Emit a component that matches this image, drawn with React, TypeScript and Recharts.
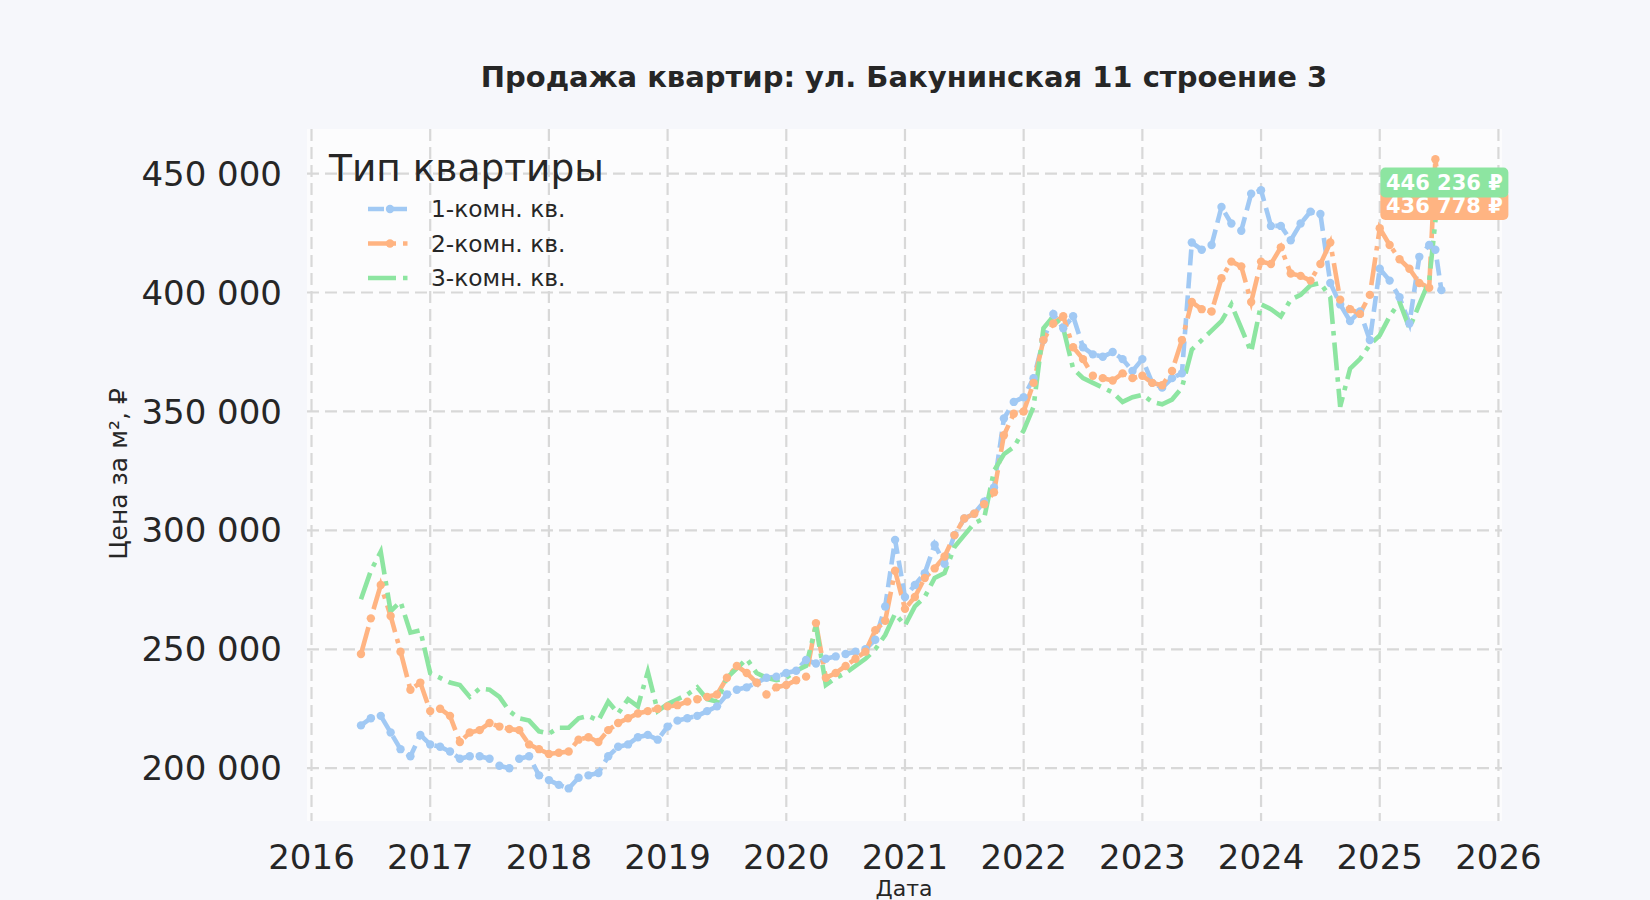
import { LineChart, Line, XAxis, YAxis, CartesianGrid, ReferenceDot, Customized } from 'recharts';

const dates = [
  '2016-06', '2016-07', '2016-08', '2016-09', '2016-10', '2016-11', '2016-12',
  '2017-01', '2017-02', '2017-03', '2017-04', '2017-05', '2017-06', '2017-07', '2017-08', '2017-09', '2017-10', '2017-11', '2017-12',
  '2018-01', '2018-02', '2018-03', '2018-04', '2018-05', '2018-06', '2018-07', '2018-08', '2018-09', '2018-10', '2018-11', '2018-12',
  '2019-01', '2019-02', '2019-03', '2019-04', '2019-05', '2019-06', '2019-07', '2019-08', '2019-09', '2019-10', '2019-11', '2019-12',
  '2020-01', '2020-02', '2020-03', '2020-04', '2020-05', '2020-06', '2020-07', '2020-08', '2020-09', '2020-10', '2020-11', '2020-12',
  '2021-01', '2021-02', '2021-03', '2021-04', '2021-05', '2021-06', '2021-07', '2021-08', '2021-09', '2021-10', '2021-11', '2021-12',
  '2022-01', '2022-02', '2022-03', '2022-04', '2022-05', '2022-06', '2022-07', '2022-08', '2022-09', '2022-10', '2022-11', '2022-12',
  '2023-01', '2023-02', '2023-03', '2023-04', '2023-05', '2023-06', '2023-07', '2023-08', '2023-09', '2023-10', '2023-11', '2023-12',
  '2024-01', '2024-02', '2024-03', '2024-04', '2024-05', '2024-06', '2024-07', '2024-08', '2024-09', '2024-10', '2024-11', '2024-12',
  '2025-01', '2025-02', '2025-03', '2025-04', '2025-05', '2025-06', '2025-06-20', '2025-07-08',
];

// 1-комн. кв.
const oneRoom = [
  218000, 221000, 222000, 215000, 208000, 205000, 214000,
  210000, 209000, 207000, 204000, 205000, 205000, 204000, 201000, 200000, 204000, 205000, 197000,
  195000, 193000, 191500, 196000, 197000, 198000, 205000, 209000, 210000, 213000, 214000, 212000,
  217500, 220000, 221000, 222000, 224000, 226000, 231000, 233000, 234000, 236000, 238000, 238500,
  240000, 241000, 245500, 244000, 246000, 247000, 248000, 249000, 250000, 254000, 268000, 296000,
  272000, 277000, 282000, 294000, 286000, 298000, 305000, 307000, 312000, 318000, 347000, 354000,
  356000, 364000, 380000, 391000, 385000, 390000, 377000, 374000, 373000, 375000, 372000, 367000,
  372000, 362000, 360000, 364000, 366000, 421000, 418000, 420000, 436000, 429000, 426000, 441500,
  443000, 428000, 428000, 422000, 429000, 434000, 433000, 404000, 395000, 388000, 392000, 380000,
  410000, 405000, 398000, 387000, 415000, 420000, 418000, 401000,
];

// 2-комн. кв.
const twoRoom = [
  248000, 263000, 277000, 264000, 249000, 233000, 236000,
  224000, 225000, 222000, 211000, 215000, 216000, 219000, 217500, 216500, 216000, 210000, 208000,
  206000, 206500, 207000, 212000, 213000, 211000, 216000, 219000, 221000, 223000, 224000, 225000,
  226000, 226500, 228000, 229000, 230000, 231000, 238000, 243000, 240000, 236000, 231000, 234000,
  235000, 237000, 238500, 261000, 238000, 240000, 243000, 246000, 249000, 258000, 262000, 283000,
  267000, 272000, 280000, 284000, 289000, 298000, 305000, 307000, 311000, 316000, 340000, 349000,
  350000, 362000, 380000, 387000, 390000, 377000, 372000, 365000, 364000, 363000, 366000, 364000,
  365000, 362000, 361000, 367000, 380000, 396000, 393000, 392000, 406000, 413000, 411000, 396000,
  413000, 412000, 419000, 408000, 407000, 405000, 412000, 421000, 397000, 393000, 391000, 399000,
  427000, 420000, 414000, 410000, 404000, 402000, 456000, 436778,
];

// 3-комн. кв.
const threeRoom = [
  271000, 283000, 291000, 266000, 270000, 257000, 258000,
  240000, 238000, 236000, 235000, 230000, 233500, 233000, 230000, 224000, 221000, 220000, 215500,
  214500, 217000, 217000, 221000, 222000, 220000, 228000, 223000, 229000, 226000, 240500, 224000,
  227000, 229000, 231000, 234000, 229000, 228000, 238000, 242000, 246000, 240000, 238000, 237000,
  238000, 241000, 243000, 260000, 235000, 238000, 240000, 243000, 246000, 250000, 256000, 265000,
  260000, 268000, 272000, 280000, 282000, 293000, 298000, 303000, 305000, 325000, 332000, 335000,
  342000, 352000, 385000, 390000, 385000, 368000, 364000, 362000, 360000, 358000, 354000, 356000,
  357000, 354000, 353000, 355000, 360000, 376000, 380000, 384000, 388000, 395000, 385000, 375000,
  395000, 393000, 390000, 397000, 399000, 403000, 404000, 398000, 352000, 368000, 372000, 378000,
  382000, 390000, 396000, 385000, 395000, 405000, 430000, 446236,
];

const yearTicks = [2016, 2017, 2018, 2019, 2020, 2021, 2022, 2023, 2024, 2025, 2026];
const priceTicks = [200000, 250000, 300000, 350000, 400000, 450000];
const seriesNames = ['1-комн. кв.', '2-комн. кв.', '3-комн. кв.'];

const BLUE = '#a1c9f4';
const ORANGE = '#ffb482';
const GREEN = '#8de5a1';
const TEXT = '#262626';
const FONT = '"DejaVu Sans", Verdana, sans-serif';

const LW = 4.6;
const DOT_R = 4.2;
const DASH = '16 7';
const DASHDOT = '28 7 4.5 7';

// '2020-03' or '2025-06-20' -> decimal year
const toYear = (d: string) => {
  const [y, m, day] = d.split('-').map(Number);
  return y + (m - 1) / 12 + ((day || 1) - 1) / 365;
};

const data = dates.map((d, i) => ({
  t: toYear(d),
  one: oneRoom[i],
  two: twoRoom[i],
  three: threeRoom[i],
}));

const fmt = (v: number) => String(Math.round(v)).replace(/\B(?=(\d{3})+(?!\d))/g, ' ');

const last = data[data.length - 1];

const EndTag = (props: any) => {
  const { cx, cy, fill, text } = props;
  if (cx == null || cy == null) return null;
  const x = cx + 3;
  return (
    <g>
      <rect x={x - 64} y={cy - 15} width={128} height={30} rx={5} fill={fill} />
      <text
        x={x}
        y={cy}
        dy="0.36em"
        textAnchor="middle"
        fill="#fff"
        fontWeight="bold"
        fontSize={21}
        fontFamily={FONT}
      >
        {text}
      </text>
    </g>
  );
};

const legendRows = [
  { name: seriesNames[0], color: BLUE, dash: DASH, dot: true },
  { name: seriesNames[1], color: ORANGE, dash: DASHDOT, dot: true },
  { name: seriesNames[2], color: GREEN, dash: DASHDOT, dot: false },
];

const Decor = () => (
  <g fontFamily={FONT} fill={TEXT}>
    <text x={904} y={87} textAnchor="middle" fontSize={29} fontWeight="bold" fill={TEXT}>
      Продажа квартир: ул. Бакунинская 11 строение 3
    </text>
    <text
      x={118}
      y={474}
      textAnchor="middle"
      dominantBaseline="central"
      fontSize={25}
      fill={TEXT}
      transform="rotate(-90 118 474)"
    >
      Цена за м², ₽
    </text>
    <text x={904} y={896} textAnchor="middle" fontSize={22} fill={TEXT}>
      Дата
    </text>
    <text x={329} y={181} fontSize={37.5} fill={TEXT}>
      Тип квартиры
    </text>
    {legendRows.map((r, i) => {
      const y = 209 + i * 34.5;
      return (
        <g key={r.name}>
          <line x1={368} x2={411} y1={y} y2={y} stroke={r.color} strokeWidth={LW} strokeDasharray={r.dash} />
          {r.dot && <circle cx={390} cy={y} r={DOT_R} fill={r.color} />}
          <text x={431} y={y} dy="0.36em" fontSize={23.3} fill={TEXT}>
            {r.name}
          </text>
        </g>
      );
    })}
  </g>
);

export default function App() {
  return (
    <div
      style={{
        position: 'fixed',
        left: 0,
        top: 0,
        width: 1650,
        height: 900,
        background: '#f6f7fb',
        fontFamily: FONT,
      }}
    >
      <LineChart
        width={1650}
        height={900}
        data={data}
        margin={{ top: 129, right: 148, bottom: 19, left: 147 }}
        style={{ fontFamily: FONT }}
      >
        <CartesianGrid
          syncWithTicks
          fill="#fcfcfd"
          stroke="#d8d8d8"
          strokeWidth={2.2}
          strokeDasharray="12 6"
        />
        <XAxis
          type="number"
          dataKey="t"
          domain={[2015.962, 2026.03]}
          ticks={yearTicks}
          interval={0}
          allowDataOverflow
          axisLine={false}
          tickLine={false}
          tickSize={0}
          tickMargin={24}
          height={60}
          tick={{ fontSize: 34, fill: TEXT }}
        />
        <YAxis
          type="number"
          domain={[177800, 468750]}
          ticks={priceTicks}
          allowDataOverflow
          axisLine={false}
          tickLine={false}
          tickSize={0}
          tickMargin={25}
          width={160}
          tickFormatter={fmt}
          tick={{ fontSize: 34, fill: TEXT }}
        />
        <Line
          dataKey="one"
          name={seriesNames[0]}
          type="linear"
          stroke={BLUE}
          strokeWidth={LW}
          strokeDasharray={DASH}
          dot={{ r: DOT_R, fill: BLUE, stroke: BLUE, strokeWidth: 0 }}
          isAnimationActive={false}
        />
        <Line
          dataKey="two"
          name={seriesNames[1]}
          type="linear"
          stroke={ORANGE}
          strokeWidth={LW}
          strokeDasharray={DASHDOT}
          dot={{ r: DOT_R, fill: ORANGE, stroke: ORANGE, strokeWidth: 0 }}
          isAnimationActive={false}
        />
        <Line
          dataKey="three"
          name={seriesNames[2]}
          type="linear"
          stroke={GREEN}
          strokeWidth={LW}
          strokeDasharray={DASHDOT}
          dot={false}
          isAnimationActive={false}
        />
        <ReferenceDot
          x={last.t}
          y={last.two}
          r={0}
          shape={(p: any) => <EndTag {...p} fill={ORANGE} text={`${fmt(last.two)} ₽`} />}
        />
        <ReferenceDot
          x={last.t}
          y={last.three}
          r={0}
          shape={(p: any) => <EndTag {...p} fill={GREEN} text={`${fmt(last.three)} ₽`} />}
        />
        <Customized component={<Decor />} />
      </LineChart>
    </div>
  );
}
